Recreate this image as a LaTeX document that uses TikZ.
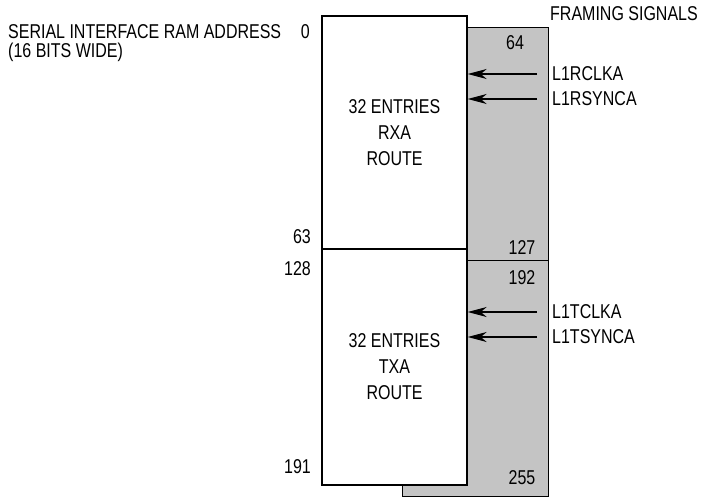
\documentclass[tikz,border=0pt]{standalone}
\usepackage{fontspec}
\setmainfont{Liberation Sans}[FakeStretch=0.8]
\usepackage{tikz}
\usetikzlibrary{arrows.meta,positioning}
\definecolor{shade}{RGB}{196,196,196}

\begin{document}
\begin{tikzpicture}[x=1pt, y=-1pt, font=\fontsize{20}{26}\selectfont,
  ram/.style={rectangle, draw=black, fill=white, line width=1.4pt, align=center,
              minimum width=145pt, inner sep=0pt},
  frm/.style={rectangle, draw=black, fill=shade, line width=0.9pt,
              minimum width=146pt, inner sep=0pt},
  lbl/.style={inner sep=0pt},
  sig/.style={-{Stealth[length=19pt, width=10pt, inset=6pt]}, line width=1.1pt}]
  \useasboundingbox (0,0) rectangle (701,497);
  % framing areas behind
  \node[frm, minimum height=233pt] (rxf) at (475,143.5) {};
  \node[frm, minimum height=236pt] (txf) at (475,378) {};
  % route entries in front
  \node[ram, minimum height=233pt] (rxa) at (394.5,132.5) {32 ENTRIES\\ RXA\\ ROUTE};
  \node[ram, minimum height=236pt] (txa) at (394.5,367) {32 ENTRIES\\ TXA\\ ROUTE};
  % addresses
  \node[lbl, anchor=west] (ttl) at (8,32) {SERIAL INTERFACE RAM ADDRESS};
  \node[lbl, anchor=west] (wid) at (8,52) {(16 BITS WIDE)};
  \node[lbl, anchor=east] (a0) at (310,32) {0};
  \node[lbl, anchor=east] (a63) at (311,237) {63};
  \node[lbl, anchor=east] (a128) at (311,269) {128};
  \node[lbl, anchor=east] (a191) at (311,467) {191};
  \node[lbl] (a64) at (515,43) {64};
  \node[lbl] (a127) at (522,248) {127};
  \node[lbl] (a192) at (522,278) {192};
  \node[lbl] (a255) at (522,478) {255};
  % framing signals
  \node[lbl, anchor=west] (fs) at (550,14) {FRAMING SIGNALS};
  \node[lbl, anchor=west] (rclk) at (552,74) {L1RCLKA};
  \node[lbl, anchor=west] (rsync) at (552,99) {L1RSYNCA};
  \node[lbl, anchor=west] (tclk) at (552,312) {L1TCLKA};
  \node[lbl, anchor=west] (tsync) at (552,337) {L1TSYNCA};
  \foreach \s/\b in {rclk/rxa, rsync/rxa, tclk/txa, tsync/txa}
    \draw[sig] ([xshift=-15pt]\s.west) -- (\s.west -| \b.east);
\end{tikzpicture}
\end{document}
